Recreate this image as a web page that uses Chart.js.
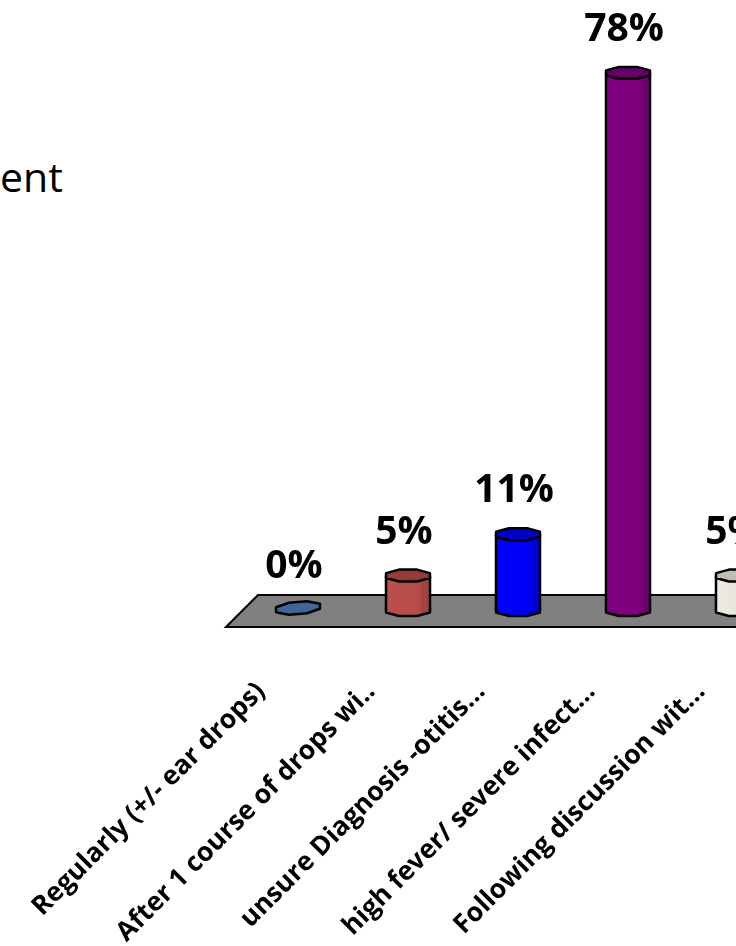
<!DOCTYPE html>
<html>
<head>
<meta charset="utf-8">
<style>
    html, body { margin: 0; padding: 0; background: #fff; overflow: hidden; width: 736px; height: 946px; }
    #wrap { position: relative; width: 736px; height: 946px; overflow: hidden; }
    #liveChart { position: absolute; left: 0; top: 0; }
    #title { position: absolute; left: 0; top: 150px; font: 41px "Open Sans", sans-serif; color: #000; line-height: 52px; }
</style>
<script src="https://cdn.jsdelivr.net/npm/chart.js@4"></script>
</head>
<body>
<div id="wrap">
    <div id="title">ent</div>
    <canvas id="liveChart" width="820" height="946"></canvas>
</div>
<script>
const categories = [
    'Regularly (+/- ear drops)',
    'After 1 course of drops wi..',
    'unsure Diagnosis -otitis...',
    'high fever/ severe infect...',
    'Following discussion wit...'
];
const percents = [0, 5, 11, 78, 5];
const barColors = ['#3f6898', '#bc4f4c', '#0000ff', '#800080', '#eeece1'];
const topColors = ['#3f6898', '#953c3a', '#0000c8', '#660066', '#bfbdb4'];

// outline of a cylinder cap, a bit faceted like the original
function capPath(ctx, x, y, w, r, tilt) {
    const n = 8;
    ctx.beginPath();
    for (let i = 0; i < n; i++) {
        const a = (i + 0.5) / n * Math.PI * 2;
        const px = Math.cos(a) * w * 1.08;
        ctx.lineTo(x + px, y + Math.sin(a) * r * 1.08 - px * tilt);
    }
    ctx.closePath();
}

const floorPlugin = {
    id: 'floor',
    beforeDatasetsDraw(chart) {
        const ctx = chart.ctx;
        const base = chart.scales.y.getPixelForValue(0);
        const left = chart.scales.x.left;
        ctx.save();
        ctx.beginPath();
        ctx.moveTo(left - 17, base + 17);
        ctx.lineTo(left + 15, base - 15);
        ctx.lineTo(chart.width + 5, base - 15);
        ctx.lineTo(chart.width + 5, base + 17);
        ctx.closePath();
        ctx.fillStyle = '#808080';
        ctx.fill();
        ctx.lineWidth = 2;
        ctx.strokeStyle = '#000';
        ctx.stroke();
        ctx.restore();
    }
};

const cylinderPlugin = {
    id: 'cylinder',
    afterDatasetsDraw(chart) {
        const ctx = chart.ctx;
        const base = chart.scales.y.getPixelForValue(0);
        ctx.save();
        ctx.lineWidth = 2.5;
        ctx.lineJoin = 'round';
        ctx.strokeStyle = '#000';
        chart.getDatasetMeta(0).data.forEach((bar, i) => {
            const w = bar.width / 2;
            const r = 6;
            if (percents[i] === 0) {
                capPath(ctx, bar.x, base - 2, w, r, 0.08);
                ctx.fillStyle = barColors[i];
                ctx.fill();
                ctx.stroke();
            } else {
                // rounded bottom and side shading
                capPath(ctx, bar.x, base, w, r, 0);
                ctx.fillStyle = barColors[i];
                ctx.fill();
                ctx.stroke();
                ctx.fillStyle = barColors[i];
                ctx.fillRect(bar.x - w, bar.y, w * 2, base - bar.y);
                const shade = ctx.createLinearGradient(bar.x - w, 0, bar.x + w, 0);
                shade.addColorStop(0, 'rgba(0,0,0,0)');
                shade.addColorStop(0.78, 'rgba(0,0,0,0.04)');
                shade.addColorStop(0.8, 'rgba(0,0,0,0.14)');
                shade.addColorStop(1, 'rgba(0,0,0,0.16)');
                ctx.fillStyle = shade;
                ctx.fillRect(bar.x - w, bar.y, w * 2, base - bar.y + 4);
                ctx.beginPath();
                ctx.moveTo(bar.x - w, bar.y);
                ctx.lineTo(bar.x - w, base);
                ctx.moveTo(bar.x + w, bar.y);
                ctx.lineTo(bar.x + w, base);
                ctx.stroke();
                capPath(ctx, bar.x, bar.y, w, r, 0);
                ctx.fillStyle = topColors[i];
                ctx.fill();
                ctx.stroke();
            }
            // value label
            ctx.fillStyle = '#000';
            ctx.font = 'bold 39px "Open Sans", sans-serif';
            ctx.textAlign = 'center';
            ctx.textBaseline = 'middle';
            ctx.fillText(percents[i] + '%', bar.x - 4, bar.y - 43);
        });
        ctx.restore();
    }
};

const chartConfig = {
    type: 'bar',
    data: {
        labels: categories,
        datasets: [
            {
                data: percents,
                backgroundColor: barColors,
                borderWidth: 0,
                barThickness: 44
            }
        ]
    },
    options: {
        responsive: false,
        animation: false,
        layout: {
            padding: { left: 243, right: 27, top: 4, bottom: 0 }
        },
        scales: {
            x: {
                grid: { display: false },
                border: { display: false },
                afterFit(scale) {
                    scale.height = 336;
                    // rotated labels would otherwise push the plot area in
                    scale.paddingLeft = 0;
                    scale.paddingRight = 0;
                },
                ticks: {
                    color: '#000',
                    autoSkip: false,
                    minRotation: 45,
                    maxRotation: 45,
                    padding: 58,
                    labelOffset: -37,
                    font: { family: '"Open Sans", sans-serif', weight: 'bold', size: 26.5 }
                }
            },
            y: {
                display: false,
                min: 0,
                max: 88
            }
        },
        plugins: {
            legend: { display: false },
            tooltip: { enabled: false }
        }
    },
    plugins: [floorPlugin, cylinderPlugin]
};

const ctx = document.getElementById('liveChart').getContext('2d');
const liveChart = new Chart(ctx, chartConfig);
</script>
</body>
</html>
